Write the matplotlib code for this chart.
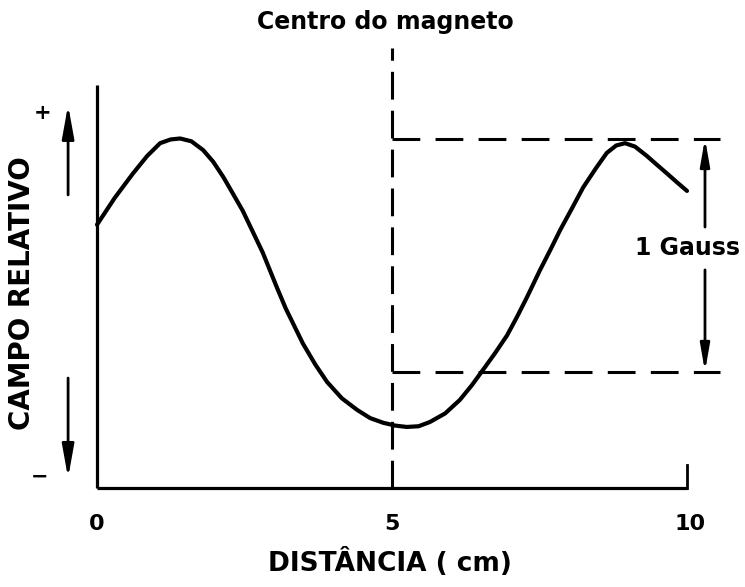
import numpy as np
import matplotlib
matplotlib.use("Agg")
import matplotlib.pyplot as plt

plt.rcParams['font.family'] = ['DejaVu Sans']
plt.rcParams['lines.scale_dashes'] = False

# relative field profile (x in cm, field in Gauss)
distancia_cm = [0.00, 0.30, 0.61, 0.85, 1.07, 1.25, 1.41, 1.60, 1.80, 1.97,
                2.14, 2.30, 2.47, 2.64, 2.81, 3.05, 3.20, 3.49, 3.70, 3.90,
                4.15, 4.41, 4.63, 4.85, 5.05, 5.25, 5.45, 5.64, 5.90, 6.15,
                6.35, 6.54, 6.75, 6.95, 7.12, 7.29, 7.51, 7.70, 7.85, 8.05,
                8.24, 8.45, 8.64, 8.80, 8.95, 9.12, 9.32, 9.50, 9.66, 9.83,
                10.0]
campo = [1.13, 1.245, 1.35, 1.425, 1.48, 1.496, 1.50, 1.488, 1.45, 1.40,
         1.335, 1.265, 1.19, 1.10, 1.01, 0.86, 0.77, 0.62, 0.53, 0.455,
         0.385, 0.335, 0.30, 0.28, 0.268, 0.262, 0.265, 0.283, 0.32, 0.378,
         0.44, 0.506, 0.58, 0.655, 0.735, 0.82, 0.936, 1.03, 1.107, 1.20,
         1.29, 1.37, 1.438, 1.47, 1.48, 1.465, 1.425, 1.385, 1.35, 1.312,
         1.275]

x_ticks = [0, 5, 10]
x_tick_labels = ['0', '5', '10']
centro = 5.0
gauss_top = 1.5
gauss_bottom = 0.5

fig = plt.figure(figsize=(7.45, 5.87), dpi=100)
ax = fig.add_axes([0, 0, 1, 1])
# map data units onto the page: 59 px per cm, 233 px per Gauss
ax.set_xlim(-97 / 59, (745 - 97) / 59)
ax.set_ylim(-(587 - 488) / 233, 488 / 233)
ax.axis('off')

k = 'black'
# hand-drawn axes
ax.plot([0, 0], [0, 1.73], color=k, lw=2.3, solid_capstyle='butt')
ax.plot([0, 10], [0, 0], color=k, lw=2.3, solid_capstyle='butt')
ax.plot([10, 10], [0, 0.1], color=k, lw=2.0)

# curve
ax.plot(distancia_cm, campo, color=k, lw=3.0, solid_joinstyle='round',
        solid_capstyle='round')

# magnet centre
ax.plot([centro, centro], [0, 1.888], color=k, lw=2.2, dashes=(20, 8))
ax.text(4.88, 2.0, 'Centro do magneto', ha='center', va='center',
        fontsize=17, fontweight='bold')

# 1 Gauss reference
ax.plot([centro, 10.56], [gauss_top, gauss_top], color=k, lw=2.2, dashes=(20, 11))
ax.plot([centro, 10.56], [gauss_bottom, gauss_bottom], color=k, lw=2.2, dashes=(20, 11))
arr = dict(arrowstyle='-|>,head_length=0.8,head_width=0.14', color=k, lw=2.0,
           mutation_scale=20, shrinkA=0, shrinkB=0)
ax.annotate('', xy=(10.305, gauss_top), xytext=(10.305, 1.12), arrowprops=arr)
ax.annotate('', xy=(10.305, gauss_bottom), xytext=(10.305, 0.936), arrowprops=arr)
ax.text(10.0, 1.03, '1 Gauss', ha='center', va='center', fontsize=17,
        fontweight='bold', bbox=dict(fc='white', ec='none', pad=1))

# y-axis sense arrows
arr2 = dict(arrowstyle='-|>,head_length=1.0,head_width=0.18', color=k, lw=2.0,
            mutation_scale=20, shrinkA=0, shrinkB=0)
ax.annotate('', xy=(-0.49, 1.644), xytext=(-0.49, 1.258), arrowprops=arr2)
ax.annotate('', xy=(-0.49, 0.043), xytext=(-0.49, 0.472), arrowprops=arr2)
ax.text(-0.93, 1.61, '+', ha='center', va='center', fontsize=15, fontweight='bold')
ax.text(-0.97, 0.05, '\u2212', ha='center', va='center', fontsize=15, fontweight='bold')
ax.text(-1.27, 0.837, 'CAMPO RELATIVO', rotation=90, ha='center', va='center',
        fontsize=20, fontweight='bold')

# x ticks and label
for xt, lab in zip(x_ticks, x_tick_labels):
    ax.text(xt + (0.05 if xt == 10 else 0), -0.155, lab, ha='center', va='center',
            fontsize=16, fontweight='bold')
ax.text(4.97, -0.318, 'DISTÂNCIA ( cm)', ha='center', va='center',
        fontsize=19, fontweight='bold')

fig.savefig('out.png', dpi=100)
